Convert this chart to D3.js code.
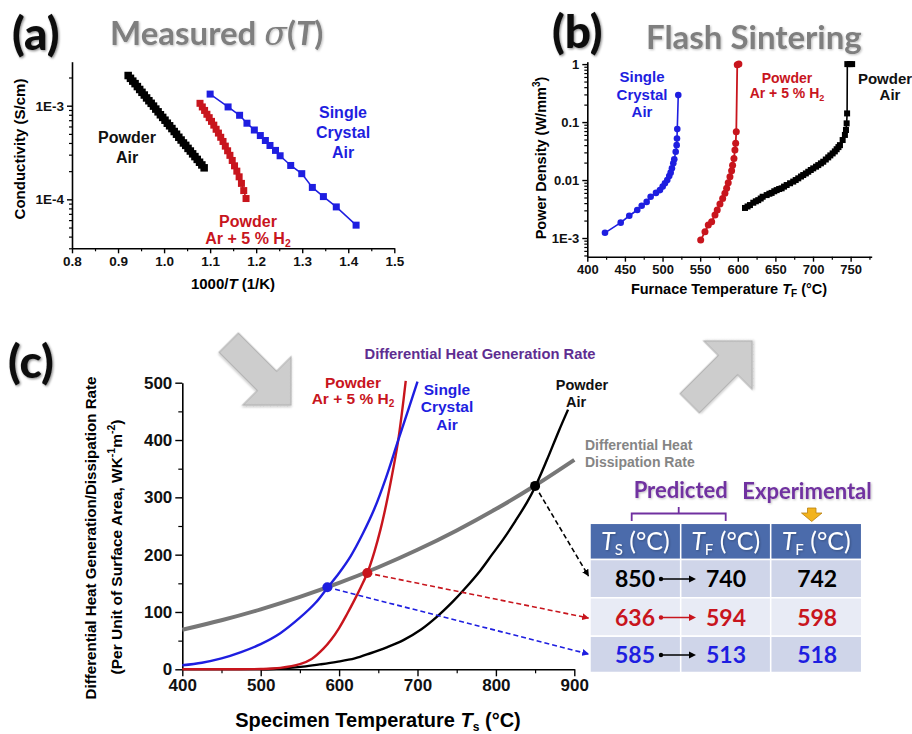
<!DOCTYPE html>
<html>
<head>
<meta charset="utf-8">
<script src="https://cdn.jsdelivr.net/npm/d3@7"></script>
<style>
  body { margin: 0; background: #fff; }
  svg { display: block; font-family: "Liberation Sans", Arial, sans-serif; }
</style>
</head>
<body>
<svg id="fig" width="912" height="734"></svg>
<script>
// ---- data ----
// (a) conductivity vs 1000/T
const aPowderAir = [[0.922,2.10e-3],[0.927,1.96e-3],[0.932,1.83e-3],[0.937,1.72e-3],[0.942,1.60e-3],[0.947,1.49e-3],
  [0.952,1.39e-3],[0.957,1.30e-3],[0.962,1.21e-3],[0.967,1.13e-3],[0.972,1.06e-3],[0.977,9.9e-4],[0.982,9.2e-4],
  [0.987,8.6e-4],[0.992,8.0e-4],[0.997,7.5e-4],[1.002,7.0e-4],[1.007,6.5e-4],[1.012,6.1e-4],[1.017,5.7e-4],
  [1.022,5.3e-4],[1.027,4.96e-4],[1.032,4.6e-4],[1.037,4.3e-4],[1.042,4.0e-4],[1.047,3.77e-4],[1.052,3.5e-4],
  [1.057,3.28e-4],[1.062,3.06e-4],[1.067,2.86e-4],[1.072,2.67e-4],[1.077,2.49e-4],[1.082,2.33e-4],[1.087,2.17e-4]];
const aPowderH2 = [[1.078,1.06e-3],[1.083,9.7e-4],[1.088,8.9e-4],[1.093,8.1e-4],[1.098,7.45e-4],[1.103,6.8e-4],
  [1.108,6.2e-4],[1.113,5.6e-4],[1.118,5.1e-4],[1.123,4.6e-4],[1.128,4.15e-4],[1.133,3.7e-4],[1.138,3.3e-4],
  [1.143,2.95e-4],[1.148,2.6e-4],[1.153,2.28e-4],[1.158,2.0e-4],[1.163,1.74e-4],[1.168,1.48e-4],[1.173,1.24e-4],[1.178,1.02e-4]];
const aCrystal = [[1.100,1.33e-3],[1.139,9.7e-4],[1.164,7.9e-4],[1.180,6.5e-4],[1.196,5.5e-4],[1.209,4.8e-4],
  [1.220,4.25e-4],[1.230,3.76e-4],[1.242,3.33e-4],[1.252,2.92e-4],[1.275,2.3e-4],[1.299,1.88e-4],[1.322,1.34e-4],
  [1.346,1.07e-4],[1.374,8.3e-5],[1.417,5.3e-5]];
const aXTicks = [0.8,0.9,1.0,1.1,1.2,1.3,1.4,1.5];
const aYTicks = [1e-3,1e-4];
const aYLabels = ["1E-3","1E-4"];

// (b) power density vs furnace temperature
const bCrystal = [[423.5,1.23e-3],[444.4,1.84e-3],[455.8,2.42e-3],[466.4,3.04e-3],[472.3,3.6e-3],[478.9,4.2e-3],
  [484.2,5.15e-3],[491.3,6.0e-3],[496.6,6.7e-3],[500.2,7.7e-3],[503.2,8.8e-3],[506.3,0.010],[508.9,0.0117],
  [510.8,0.0134],[512.5,0.0159],[514.3,0.0194],[515.6,0.0228],[517.5,0.0308],[518.8,0.040],[519.2,0.052],
  [519.6,0.0757],[520.9,0.292]];
const bPowderH2 = [[550.7,9.2e-4],[556.4,1.28e-3],[560.8,1.67e-3],[565.3,1.91e-3],[569.7,2.5e-3],[572.7,3.04e-3],
  [576.3,3.86e-3],[579.9,4.8e-3],[582.9,5.9e-3],[585.2,7.2e-3],[587.3,9.0e-3],[589.6,0.0114],[591.8,0.0145],
  [593.1,0.018],[594.9,0.0236],[596.2,0.033],[597.2,0.043],[598.0,0.068],[599.3,0.97],[601.5,1.0]];
const bPowderAir = [[609.6,3.3e-3],[613.0,3.5e-3],[616.2,3.7e-3],[620.6,4.06e-3],[624.0,4.3e-3],[627.2,4.5e-3],
  [630.5,4.8e-3],[633.1,5.15e-3],[638.4,5.5e-3],[642.0,5.8e-3],[645.0,6.0e-3],[648.5,6.4e-3],[651.7,6.7e-3],
  [655.0,7.0e-3],[658.3,7.2e-3],[661.5,7.7e-3],[665.0,8.2e-3],[669.5,8.8e-3],[673.7,9.4e-3],[677.0,0.0100],
  [680.4,0.0107],[684.0,0.0115],[687.0,0.0122],[690.5,0.0130],[693.7,0.0139],[697.0,0.0149],[700.3,0.0159],
  [704.0,0.0170],[707.0,0.0181],[710.5,0.0194],[713.6,0.0207],[717.0,0.0226],[720.2,0.0246],[723.0,0.0266],
  [726.1,0.0288],[729.0,0.0312],[731.4,0.034],[733.8,0.037],[735.8,0.040],[739.4,0.049],[742.4,0.060],
  [743.8,0.073],[744.7,0.095],[745.3,0.141],[745.6,1.0],[749.0,1.0],[752.0,1.0]];
const bXTicks = [400,450,500,550,600,650,700,750];
const bYTicks = [1,0.1,0.01,1e-3];
const bYLabels = ["1","0.1","0.01","1E-3"];

// (c) differential heat generation / dissipation rate vs specimen temperature
const cDissipation = [[400,69],[450,85.6],[500,104.6],[550,126.2],[600,150.6],[650,178],[700,208.5],
  [750,242.3],[800,279.6],[850,320.6],[900,365.3]];
const cCrystal = [[400,7],[425,11.5],[450,19],[475,30],[500,44],[525,63],[550,90],[570,116],[585,142],
  [600,168],[615,198],[630,236],[645,280],[660,335],[675,398],[690,460],[700,502]];
const cPowderH2 = [[400,0],[450,0],[500,0.5],[525,2.5],[550,9],[565,18],[580,36],[590,52],[600,72],[610,96],
  [620,122],[628,144],[636,168],[645,205],[653,245],[660,287],[667,335],[675,396],[680,446],[685,503]];
const cPowderAir = [[500,0],[525,1.5],[554,4.7],[575,8.5],[597,13],[620,19],[640,28],[660,38],[682,51],
  [705,70],[725,92],[745,118],[760,140],[780,172],[795,200],[810,228],[825,259],[840,292],[850,318],
  [865,365],[880,415],[892,453]];
const crossT = [850, 636, 585];
const crossV = [320, 168, 143];
const crossColors = ["#000000", "#c8151d", "#1e1ee0"];

// table
const tblTs = [850, 636, 585];
const tblTfPred = [740, 594, 513];
const tblTfExp = [742, 598, 518];
const tblTextColors = ["#000000", "#c8151d", "#1e1ee0"];
const tblArrowColors = ["#000000", "#c8151d", "#000000"];
const tblHeadSubs = ["S", "F", "F"];

// ---- drawing ----
const BLACK = "#000", RED = "#c8151d", BLUE = "#1e1ee0", PURPLE = "#5e2d91";
const svg = d3.select("#fig");
svg.append("rect").attr("width", 912).attr("height", 734).attr("fill", "#fff");

const defs = svg.append("defs");
const sh = defs.append("filter").attr("id", "shadow").attr("x", "-20%").attr("y", "-20%").attr("width", "140%").attr("height", "140%");
sh.append("feDropShadow").attr("dx", 1.2).attr("dy", 1.2).attr("stdDeviation", 1.3).attr("flood-color", "#000").attr("flood-opacity", 0.45);
const sh2 = defs.append("filter").attr("id", "softshadow").attr("x", "-20%").attr("y", "-20%").attr("width", "140%").attr("height", "140%");
sh2.append("feDropShadow").attr("dx", 1).attr("dy", 1).attr("stdDeviation", 1).attr("flood-color", "#000").attr("flood-opacity", 0.25);

[["ah-black", BLACK], ["ah-red", RED], ["ah-blue", BLUE]].forEach(([id, c]) => {
  defs.append("marker").attr("id", id).attr("viewBox", "0 0 10 10").attr("refX", 9).attr("refY", 5)
    .attr("markerWidth", 7).attr("markerHeight", 7).attr("markerUnits", "userSpaceOnUse").attr("orient", "auto")
    .append("path").attr("d", "M0,0 L10,5 L0,10 z").attr("fill", c);
});

function styleAxis(g, fs) {
  g.attr("font-family", "'Liberation Sans', Arial, sans-serif").attr("font-size", fs).attr("font-weight", "bold");
  g.select(".domain").attr("stroke", "#000").attr("stroke-width", 1.6);
  g.selectAll(".tick line").attr("stroke", "#000").attr("stroke-width", 1.4);
  g.selectAll(".tick text").attr("fill", "#111");
}
function minorAxis(g, axis) {
  g.call(axis.tickFormat("").tickSizeOuter(0));
  g.select(".domain").remove();
  g.selectAll(".tick line").attr("stroke", "#000").attr("stroke-width", 1.2);
}

function panelTitle(x, y, txt, size) {
  svg.append("text").attr("x", x).attr("y", y).attr("font-family", "Lato, 'Open Sans', sans-serif")
    .attr("font-weight", 900).attr("font-size", size).attr("fill", "#111").attr("filter", "url(#shadow)").text(txt);
}
function lines(x, y, arr, color, size, lh) {
  const t = svg.append("text").attr("x", x).attr("y", y).attr("text-anchor", "middle")
    .attr("font-weight", "bold").attr("font-size", size).attr("fill", color);
  arr.forEach((s, i) => t.append("tspan").attr("x", x).attr("dy", i === 0 ? 0 : lh).text(s));
  return t;
}
function h2Label(x, y, color, size) {
  const t = svg.append("text").attr("x", x).attr("y", y).attr("text-anchor", "middle")
    .attr("font-weight", "bold").attr("font-size", size).attr("fill", color);
  t.append("tspan").text("Ar + 5 % H");
  t.append("tspan").attr("font-size", size * 0.65).attr("dy", 3).text("2");
}
function squares(data, x, y, size, color) {
  svg.append("g").selectAll("rect").data(data).join("rect")
    .attr("x", d => x(d[0]) - size / 2).attr("y", d => y(d[1]) - size / 2)
    .attr("width", size).attr("height", size).attr("fill", color);
}
function circles(data, x, y, r, color) {
  svg.append("g").selectAll("circle").data(data).join("circle")
    .attr("cx", d => x(d[0])).attr("cy", d => y(d[1])).attr("r", r).attr("fill", color);
}
function trace(data, x, y, color, w, curve) {
  const ln = d3.line().x(d => x(d[0])).y(d => y(d[1]));
  if (curve) ln.curve(curve);
  svg.append("path").datum(data).attr("d", ln).attr("fill", "none").attr("stroke", color).attr("stroke-width", w);
}
function blockArrow(tx, ty, angle) {
  const pts = [[-88,-13.6],[-34,-13.6],[-34,-34],[0,0],[-34,34],[-34,13.6],[-88,13.6]];
  svg.append("polygon").attr("points", pts.map(p => p.join(",")).join(" "))
    .attr("transform", `translate(${tx},${ty}) rotate(${angle})`)
    .attr("fill", "#cdcdcd").attr("stroke", "#b4b4b4").attr("stroke-width", 1.2).attr("filter", "url(#softshadow)");
}

// ===== panel (a) =====
panelTitle(12, 50, "(a)", 46);
{
  const t = svg.append("text").attr("x", 110).attr("y", 45).attr("font-family", "Lato, 'Open Sans', sans-serif")
    .attr("font-weight", "bold").attr("font-size", 33).attr("fill", "#7f7f7f").attr("filter", "url(#softshadow)");
  t.append("tspan").text("Measured ");
  t.append("tspan").attr("font-style", "italic").attr("font-family", "'DejaVu Serif', serif").attr("font-weight", "normal").text("σ");
  t.append("tspan").text("(");
  t.append("tspan").attr("font-style", "italic").text("T");
  t.append("tspan").text(")");
}
const xa = d3.scaleLinear().domain([0.8, 1.5]).range([72, 394.3]);
const ya = d3.scaleLog().domain([3.0e-5, 2.95e-3]).range([248.3, 61.7]);
{
  const gx = svg.append("g").attr("transform", "translate(0,248.3)");
  minorAxis(gx, d3.axisBottom(xa).tickValues([0.85,0.95,1.05,1.15,1.25,1.35,1.45]).tickSize(3));
  const gx2 = svg.append("g").attr("transform", "translate(0,248.3)")
    .call(d3.axisBottom(xa).tickValues(aXTicks).tickFormat(d3.format(".1f")).tickSize(5).tickSizeOuter(0).tickPadding(3));
  styleAxis(gx2, 13.5);
  const gy = svg.append("g").attr("transform", "translate(72,0)");
  minorAxis(gy, d3.axisLeft(ya).tickValues(ya.ticks().filter(v => !aYTicks.includes(v))).tickSize(3));
  const gy2 = svg.append("g").attr("transform", "translate(72,0)")
    .call(d3.axisLeft(ya).tickValues(aYTicks).tickFormat((d, i) => aYLabels[i]).tickSize(5).tickSizeOuter(0).tickPadding(3));
  styleAxis(gy2, 13.5);
  svg.append("text").attr("transform", "translate(25,149) rotate(-90)").attr("text-anchor", "middle")
    .attr("font-weight", "bold").attr("font-size", 15).text("Conductivity (S/cm)");
  const xt = svg.append("text").attr("x", 233).attr("y", 289).attr("text-anchor", "middle").attr("font-weight", "bold").attr("font-size", 15);
  xt.append("tspan").text("1000/");
  xt.append("tspan").attr("font-style", "italic").text("T");
  xt.append("tspan").text(" (1/K)");
}
squares(aPowderAir, xa, ya, 7.5, BLACK);
trace(aPowderH2, xa, ya, RED, 1.5);
squares(aPowderH2, xa, ya, 7, RED);
trace(aCrystal, xa, ya, BLUE, 1.5);
squares(aCrystal, xa, ya, 7, BLUE);
lines(127, 143, ["Powder", "Air"], "#111", 16, 20);
lines(343, 118, ["Single", "Crystal", "Air"], BLUE, 16, 20);
lines(248, 227, ["Powder"], RED, 16, 0);
h2Label(248, 244, RED, 16);

// ===== panel (b) =====
panelTitle(552, 48, "(b)", 46);
svg.append("text").attr("x", 646).attr("y", 49).attr("font-family", "Lato, 'Open Sans', sans-serif")
  .attr("font-weight", "bold").attr("font-size", 33).attr("fill", "#7f7f7f").attr("filter", "url(#softshadow)").text("Flash Sintering");
const xb = d3.scaleLinear().domain([400, 778]).range([587.3, 871.7]);
const yb = d3.scaleLog().domain([4.76e-4, 1.1]).range([256.7, 61.7]);
{
  const gx = svg.append("g").attr("transform", "translate(0,256.7)");
  minorAxis(gx, d3.axisBottom(xb).tickValues([425,475,525,575,625,675,725,775]).tickSize(3));
  const gx2 = svg.append("g").attr("transform", "translate(0,256.7)")
    .call(d3.axisBottom(xb).tickValues(bXTicks).tickFormat(d3.format("d")).tickSize(5).tickSizeOuter(0).tickPadding(3));
  styleAxis(gx2, 13);
  const gy = svg.append("g").attr("transform", "translate(587.3,0)");
  minorAxis(gy, d3.axisLeft(yb).tickValues(yb.ticks().filter(v => !bYTicks.some(b => Math.abs(b - v) / b < 1e-6))).tickSize(3));
  const gy2 = svg.append("g").attr("transform", "translate(587.3,0)")
    .call(d3.axisLeft(yb).tickValues(bYTicks).tickFormat((d, i) => bYLabels[i]).tickSize(5).tickSizeOuter(0).tickPadding(3));
  styleAxis(gy2, 13);
  const yt = svg.append("text").attr("transform", "translate(546,158) rotate(-90)").attr("text-anchor", "middle")
    .attr("font-weight", "bold").attr("font-size", 14.5);
  yt.append("tspan").text("Power Density (W/mm");
  yt.append("tspan").attr("font-size", 10).attr("dy", -6).text("3");
  yt.append("tspan").attr("dy", 6).text(")");
  const xt = svg.append("text").attr("x", 729).attr("y", 294).attr("text-anchor", "middle").attr("font-weight", "bold").attr("font-size", 14.5);
  xt.append("tspan").text("Furnace Temperature ");
  xt.append("tspan").attr("font-style", "italic").text("T");
  xt.append("tspan").attr("font-size", 10).attr("dy", 3).text("F");
  xt.append("tspan").attr("dy", -3).text(" (°C)");
}
trace(bCrystal, xb, yb, BLUE, 1.6);
circles(bCrystal, xb, yb, 3.3, BLUE);
trace(bPowderH2, xb, yb, RED, 1.8);
circles(bPowderH2, xb, yb, 3.5, RED);
trace(bPowderAir, xb, yb, BLACK, 1.6);
squares(bPowderAir, xb, yb, 6, BLACK);
lines(642, 82, ["Single", "Crystal", "Air"], BLUE, 15, 17.5);
lines(787, 83, ["Powder"], RED, 14, 0);
h2Label(787, 98, RED, 14);
lines(885, 84, ["Powder"], "#111", 15, 0);
lines(890, 100, ["Air"], "#111", 15, 0);

// ===== panel (c) =====
panelTitle(8, 378, "(c)", 46);
blockArrow(291, 405, 45);
blockArrow(752, 341, -45);
const xc = d3.scaleLinear().domain([400, 900]).range([182.3, 574.3]);
const yc = d3.scaleLinear().domain([0, 500]).range([669.3, 382.7]);
{
  const gx = svg.append("g").attr("transform", "translate(0,669.3)");
  minorAxis(gx, d3.axisBottom(xc).tickValues([450,550,650,750,850]).tickSize(4));
  const gx2 = svg.append("g").attr("transform", "translate(0,669.3)")
    .call(d3.axisBottom(xc).tickValues([400,500,600,700,800,900]).tickSize(7).tickSizeOuter(0).tickPadding(3));
  styleAxis(gx2, 17);
  const gy = svg.append("g").attr("transform", "translate(182.3,0)");
  minorAxis(gy, d3.axisLeft(yc).tickValues([50,150,250,350,450]).tickSize(4));
  const gy2 = svg.append("g").attr("transform", "translate(182.3,0)")
    .call(d3.axisLeft(yc).tickValues([0,100,200,300,400,500]).tickSize(7).tickSizeOuter(0).tickPadding(3));
  styleAxis(gy2, 17);
  svg.append("text").attr("transform", "translate(96,538) rotate(-90)").attr("text-anchor", "middle")
    .attr("font-weight", "bold").attr("font-size", 15.5).attr("textLength", 323).attr("lengthAdjust", "spacingAndGlyphs")
    .text("Differential Heat Generation/Dissipation Rate");
  const y2 = svg.append("text").attr("transform", "translate(122,547) rotate(-90)").attr("text-anchor", "middle")
    .attr("font-weight", "bold").attr("font-size", 15.5);
  y2.append("tspan").text("(Per Unit of Surface Area, WK");
  y2.append("tspan").attr("font-size", 10.5).attr("dy", -7).text("-1");
  y2.append("tspan").attr("dy", 7).text("m");
  y2.append("tspan").attr("font-size", 10.5).attr("dy", -7).text("-2");
  y2.append("tspan").attr("dy", 7).text(")");
  const xt = svg.append("text").attr("x", 378).attr("y", 727).attr("text-anchor", "middle").attr("font-weight", "bold").attr("font-size", 20);
  xt.append("tspan").text("Specimen Temperature ");
  xt.append("tspan").attr("font-style", "italic").text("T");
  xt.append("tspan").attr("font-size", 12).attr("dy", 4).text("s");
  xt.append("tspan").attr("dy", -4).text(" (°C)");
}
const smooth = d3.curveCatmullRom.alpha(0.5);
trace(cDissipation, xc, yc, "#777", 4, smooth);
trace(cPowderAir, xc, yc, BLACK, 2.4, smooth);
trace(cPowderH2, xc, yc, RED, 2.4, smooth);
trace(cCrystal, xc, yc, BLUE, 2.4, smooth);

// table geometry
const tblX = [590, 680.7, 770.7, 861.7];
const tblY = [523.3, 559.5, 597.8, 636.2, 672.5];
const tblFill = ["#4b6bab", "#cfd5e9", "#e8ebf5", "#cfd5e9"];

// dashed guide arrows from the intersections to the table rows
const arrowTipY = [576, 618, 654];
const arrowIds = ["ah-black", "ah-red", "ah-blue"];
crossT.forEach((t, i) => {
  svg.append("line").attr("x1", xc(t)).attr("y1", yc(crossV[i])).attr("x2", 588.5).attr("y2", arrowTipY[i])
    .attr("stroke", crossColors[i]).attr("stroke-width", 1.6).attr("stroke-dasharray", "5,3")
    .attr("marker-end", `url(#${arrowIds[i]})`);
});
svg.append("g").selectAll("circle").data(crossT).join("circle")
  .attr("cx", d => xc(d)).attr("cy", (d, i) => yc(crossV[i])).attr("r", 5).attr("fill", (d, i) => crossColors[i]);

// labels (c)
svg.append("text").attr("x", 480).attr("y", 359).attr("text-anchor", "middle").attr("font-weight", "bold")
  .attr("font-size", 14).attr("textLength", 231).attr("lengthAdjust", "spacingAndGlyphs").attr("fill", PURPLE)
  .text("Differential Heat Generation Rate");
lines(353, 388, ["Powder"], RED, 15.5, 0);
h2Label(353, 404, RED, 15.5);
lines(447, 395, ["Single", "Crystal", "Air"], BLUE, 15.5, 17.3);
lines(582, 390, ["Powder"], "#111", 14.5, 0);
lines(576, 406.5, ["Air"], "#111", 14.5, 0);
svg.append("text").attr("x", 585).attr("y", 450).attr("font-weight", "bold").attr("font-size", 14)
  .attr("fill", "#858585").text("Differential Heat");
svg.append("text").attr("x", 585).attr("y", 467).attr("font-weight", "bold").attr("font-size", 14)
  .attr("fill", "#858585").text("Dissipation Rate");

// Predicted / Experimental headers
const calib = "Lato, 'Open Sans', sans-serif";
svg.append("text").attr("x", 680.7).attr("y", 498).attr("text-anchor", "middle").attr("font-family", calib)
  .attr("font-weight", "bold").attr("font-size", 22).attr("fill", "#7030a0").attr("filter", "url(#softshadow)").text("Predicted");
svg.append("text").attr("x", 807).attr("y", 499).attr("text-anchor", "middle").attr("font-family", calib)
  .attr("font-weight", "bold").attr("font-size", 22).attr("fill", "#7030a0").attr("filter", "url(#softshadow)").text("Experimental");
svg.append("path").attr("d", "M631.7,521 L631.7,513.5 L725.7,513.5 L725.7,521 M678.7,513.5 L678.7,507")
  .attr("fill", "none").attr("stroke", "#7030a0").attr("stroke-width", 1.8);
svg.append("polygon").attr("points", "807.5,508 816,508 816,513 822,513 811.7,521.5 801.5,513 807.5,513")
  .attr("fill", "#f2b31d").attr("stroke", "#b98010").attr("stroke-width", 0.8);

// table cells
for (let r = 0; r < 4; r++) {
  for (let c = 0; c < 3; c++) {
    svg.append("rect").attr("x", tblX[c]).attr("y", tblY[r]).attr("width", tblX[c + 1] - tblX[c])
      .attr("height", tblY[r + 1] - tblY[r]).attr("fill", tblFill[r]).attr("stroke", "#fff").attr("stroke-width", 1.5);
  }
}
tblHeadSubs.forEach((s, c) => {
  const cx = (tblX[c] + tblX[c + 1]) / 2;
  const t = svg.append("text").attr("x", cx).attr("y", 550).attr("text-anchor", "middle").attr("font-family", calib)
    .attr("font-size", 25).attr("fill", "#fff").attr("filter", "url(#softshadow)");
  t.append("tspan").attr("font-style", "italic").text("T");
  t.append("tspan").attr("font-size", 15).attr("dy", 5).text(s);
  t.append("tspan").attr("dy", -5).text(" (°C)");
});
const rowMid = [579, 617.5, 655];
const colMid = tblX.slice(0, 3).map((x, i) => (x + tblX[i + 1]) / 2);
tblTs.forEach((v, r) => {
  const y = rowMid[r] + 8;
  const put = (x, txt) => svg.append("text").attr("x", x).attr("y", y).attr("text-anchor", "middle").attr("font-family", calib)
    .attr("font-weight", "bold").attr("font-size", 23).attr("fill", tblTextColors[r]).text(txt);
  put(635, v);
  put(726, tblTfPred[r]);
  put(colMid[2] + 1, tblTfExp[r]);
  const ac = tblArrowColors[r];
  svg.append("circle").attr("cx", 661).attr("cy", rowMid[r]).attr("r", 2.2).attr("fill", ac);
  svg.append("line").attr("x1", 661).attr("y1", rowMid[r]).attr("x2", 690).attr("y2", rowMid[r]).attr("stroke", ac).attr("stroke-width", 1.5);
  svg.append("path").attr("d", `M689,${rowMid[r] - 3.5} L696,${rowMid[r]} L689,${rowMid[r] + 3.5} z`).attr("fill", ac);
});
</script>
</body>
</html>
